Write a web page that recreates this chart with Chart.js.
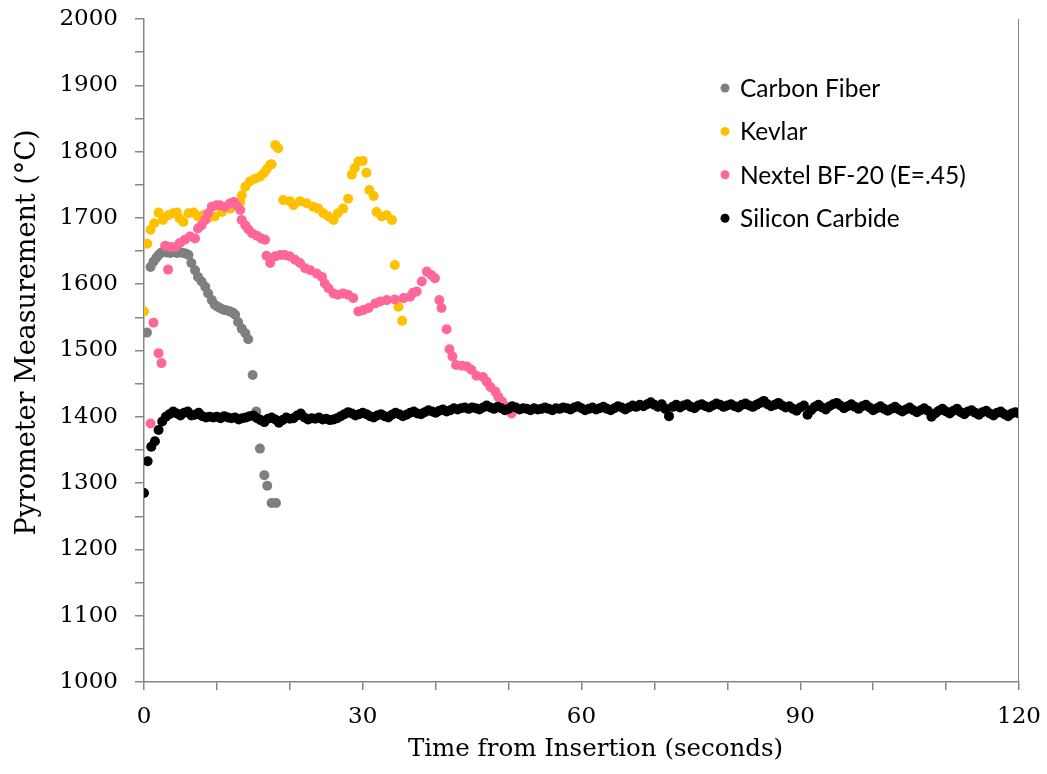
<!DOCTYPE html>
<html>
<head>
<meta charset="utf-8">
<script src="https://cdn.jsdelivr.net/npm/chart.js@4/dist/chart.umd.min.js"></script>
<style>
  html, body { margin: 0; padding: 0; background: #fff; }
  #wrap { width: 1047px; height: 774px; position: relative; }
</style>
</head>
<body>
<div id="wrap"><canvas id="chart-pyro"></canvas></div>
<script>
/* Pyrometer readings, time in seconds, temperature in deg C */
var carbonTime = [0.4, 0.9, 1.3, 1.7, 2.0, 2.3, 2.6, 3.1, 3.6, 4.0, 4.5, 4.9, 5.4, 5.8, 6.1, 6.5, 7.0, 7.4, 7.9, 8.4,
    8.8, 9.3, 9.7, 10.1, 10.4, 10.8, 11.1, 11.5, 11.8, 12.2, 12.5, 12.9, 13.4, 13.9, 14.3, 14.9, 15.4, 15.9, 16.5, 16.9,
    17.5, 18.1];
var carbonTemp = [1527, 1626, 1634, 1640, 1644, 1647, 1649, 1648, 1647, 1649, 1647, 1648, 1647, 1646, 1644, 1632, 1621, 1611, 1604, 1596,
    1586, 1576, 1569, 1566, 1564, 1562, 1561, 1560, 1559, 1557, 1554, 1543, 1533, 1526, 1517, 1463, 1408, 1352, 1312, 1296,
    1270, 1270];

var kevlarTime = [0.0, 0.45, 0.9, 1.4, 2.0, 2.6, 3.3, 4.0, 4.5, 4.9, 5.4, 6.1, 6.8, 7.4, 8.1, 8.8, 9.7, 10.7, 11.8, 12.7,
    13.2, 13.4, 13.9, 14.5, 15.2, 15.9, 16.4, 16.8, 17.3, 17.5, 18.0, 18.4, 19.1, 20.0, 20.5, 21.4, 22.3, 23.2, 23.9, 24.6,
    25.3, 26.0, 26.6, 27.3, 28.0, 28.5, 28.9, 29.4, 30.0, 30.5, 30.9, 31.5, 31.9, 32.6, 33.3, 34.0, 34.4, 34.9, 35.4];
var kevlarTemp = [1559, 1661, 1682, 1692, 1708, 1697, 1704, 1707, 1708, 1699, 1694, 1707, 1708, 1702, 1704, 1700, 1702, 1709, 1714, 1719,
    1724, 1734, 1747, 1755, 1759, 1762, 1767, 1773, 1780, 1781, 1810, 1805, 1727, 1725, 1719, 1725, 1722, 1717, 1714, 1707,
    1702, 1697, 1707, 1714, 1729, 1765, 1775, 1785, 1786, 1768, 1742, 1733, 1709, 1702, 1704, 1697, 1629, 1566, 1545];

var nextelTime = [0.9, 1.3, 2.0, 2.4, 2.9, 3.3, 3.6, 4.3, 4.9, 5.6, 6.3, 7.0, 7.4, 7.9, 8.4, 8.8, 9.3, 9.9, 10.4, 11.1,
    11.8, 12.3, 12.7, 13.2, 13.4, 13.9, 14.3, 14.8, 15.5, 16.1, 16.6, 16.8, 17.3, 18.0, 18.7, 19.3, 20.0, 20.7, 21.4, 22.1,
    22.8, 23.7, 24.4, 24.8, 25.3, 26.0, 26.6, 27.3, 28.0, 28.7, 29.4, 30.1, 30.8, 31.7, 32.4, 33.3, 34.4, 35.6, 36.5, 36.9,
    37.4, 38.1, 38.8, 39.4, 39.9, 40.5, 40.8, 41.5, 41.9, 42.3, 42.8, 43.6, 44.3, 44.9, 45.6, 46.5, 47.0, 47.5, 48.2, 48.6,
    49.1, 49.7, 50.4];
var nextelTemp = [1390, 1542, 1496, 1481, 1658, 1622, 1656, 1656, 1662, 1667, 1672, 1669, 1684, 1689, 1697, 1707, 1717, 1719, 1719, 1717,
    1722, 1724, 1719, 1712, 1697, 1689, 1683, 1677, 1673, 1669, 1667, 1643, 1632, 1642, 1644, 1644, 1642, 1637, 1632, 1624,
    1621, 1616, 1611, 1601, 1594, 1586, 1584, 1586, 1584, 1579, 1559, 1561, 1564, 1571, 1574, 1576, 1577, 1579, 1581, 1587,
    1589, 1604, 1619, 1614, 1609, 1576, 1564, 1532, 1502, 1491, 1478, 1477, 1476, 1471, 1462, 1460, 1453, 1445, 1438, 1430,
    1423, 1415, 1405];

/* silicon carbide logged every 0.5 s from t = 0 to 120 */
var sicStep = 0.5;
var sicTemp = [
    1285, 1333, 1355, 1363, 1380, 1393, 1400, 1404, 1408, 1405,
    1402, 1406, 1408, 1402, 1403, 1406, 1401, 1399, 1400, 1399,
    1400, 1398, 1401, 1399, 1398, 1399, 1396, 1398, 1399, 1401,
    1402, 1398, 1395, 1392, 1397, 1399, 1396, 1391, 1395, 1399,
    1397, 1398, 1402, 1405, 1399, 1396, 1398, 1397, 1399, 1396,
    1397, 1395, 1396, 1398, 1401, 1404, 1407, 1405, 1402, 1404,
    1406, 1404, 1401, 1399, 1402, 1404, 1401, 1399, 1403, 1406,
    1404, 1401, 1403, 1406, 1408, 1405, 1404, 1407, 1410, 1408,
    1406, 1409, 1411, 1408, 1410, 1413, 1411, 1413, 1414, 1412,
    1414, 1413, 1411, 1414, 1417, 1414, 1412, 1415, 1413, 1410,
    1412, 1416, 1414, 1411, 1413, 1412, 1410, 1413, 1411, 1412,
    1414, 1412, 1410, 1413, 1412, 1414, 1413, 1411, 1414, 1416,
    1413, 1410, 1412, 1414, 1411, 1413, 1415, 1412, 1410, 1413,
    1416, 1414, 1411, 1414, 1417, 1415, 1418, 1416, 1419, 1422,
    1418, 1415, 1419, 1412, 1401, 1415, 1418, 1414, 1417, 1419,
    1415, 1413, 1417, 1419, 1416, 1414, 1417, 1420, 1418, 1415,
    1417, 1419, 1416, 1414, 1418, 1420, 1417, 1415, 1418, 1421,
    1424, 1419, 1416, 1418, 1421, 1417, 1414, 1416, 1412, 1409,
    1414, 1417, 1403, 1410, 1415, 1418, 1414, 1411, 1416, 1419,
    1421, 1417, 1413, 1416, 1419, 1415, 1412, 1416, 1418, 1414,
    1410, 1413, 1416, 1412, 1409, 1412, 1415, 1411, 1408, 1411,
    1414, 1410, 1407, 1410, 1413, 1409, 1400, 1405, 1409, 1412,
    1408, 1405, 1409, 1412, 1407, 1404, 1408, 1410, 1406, 1403,
    1407, 1409, 1405, 1402, 1406, 1408, 1404, 1401, 1405, 1407,
    1405];

var seriesNames = ['Carbon Fiber', 'Kevlar', 'Nextel BF-20 (E=.45)', 'Silicon Carbide'];
var seriesColors = ['#7f7f7f', '#ffc000', '#ff6699', '#000000'];

function pairs(xs, ys) {
    return ys.map(function (v, i) { return { x: xs[i], y: v }; });
}
var sicPoints = sicTemp.map(function (v, i) { return { x: i * sicStep, y: v }; });

var axisGray = '#868686';
var serif = '"DejaVu Serif", "Liberation Serif", serif';

/* axis titles and the legend block are drawn by hand so they sit where the original has them */
var overlayPlugin = {
    id: 'overlay',
    afterDraw: function (chart) {
        var ctx = chart.ctx, a = chart.chartArea;
        ctx.save();
        ctx.strokeStyle = axisGray;
        ctx.lineWidth = 1;
        ctx.beginPath();
        ctx.moveTo(Math.round(a.right) - 0.5, a.top);
        ctx.lineTo(Math.round(a.right) - 0.5, a.bottom);
        ctx.stroke();

        ctx.fillStyle = '#000';
        ctx.textAlign = 'center';
        ctx.textBaseline = 'middle';
        ctx.font = '24.5px ' + serif;
        ctx.fillText('Time from Insertion (seconds)', (a.left + a.right) / 2 + 14, 750);
        ctx.save();
        ctx.translate(28, (a.top + a.bottom) / 2 - 18);
        ctx.rotate(-Math.PI / 2);
        ctx.font = '27px ' + serif;
        ctx.fillText('Pyrometer Measurement (\u00B0C)', 0, 0);
        ctx.restore();

        ctx.textAlign = 'left';
        ctx.font = '24.5px Lato, "Open Sans", sans-serif';
        for (var i = 0; i < seriesNames.length; i++) {
            var y = 88 + i * 43.4;
            ctx.fillStyle = seriesColors[i];
            ctx.beginPath();
            ctx.arc(725, y, 4.5, 0, Math.PI * 2);
            ctx.fill();
            ctx.fillStyle = '#000';
            ctx.fillText(seriesNames[i], 740, y + 1);
        }
        ctx.restore();
    }
};

var pyroCanvas = document.getElementById('chart-pyro').getContext('2d');
var pyroChart = new Chart(pyroCanvas, {
    type: 'scatter',
    data: {
        datasets: [
            { label: seriesNames[0], data: pairs(carbonTime, carbonTemp), backgroundColor: seriesColors[0], order: 3 },
            { label: seriesNames[1], data: pairs(kevlarTime, kevlarTemp), backgroundColor: seriesColors[1], order: 2 },
            { label: seriesNames[2], data: pairs(nextelTime, nextelTemp), backgroundColor: seriesColors[2], order: 1 },
            { label: seriesNames[3], data: sicPoints, backgroundColor: seriesColors[3], order: 0 }
        ]
    },
    options: {
        responsive: true,
        maintainAspectRatio: false,
        animation: false,
        elements: {
            point: { radius: 5, borderWidth: 0, hoverRadius: 5 }
        },
        layout: {
            padding: { left: 0, right: 28, top: 19, bottom: 0 }
        },
        plugins: {
            legend: { display: false },
            tooltip: { enabled: false }
        },
        scales: {
            x: {
                type: 'linear',
                min: 0,
                max: 120,
                afterFit: function (scale) {
                    scale.height = 92;
                    scale.paddingLeft = 0;
                    scale.paddingRight = 0;
                },
                ticks: {
                    stepSize: 10,
                    autoSkip: false,
                    maxRotation: 0,
                    padding: 13,
                    color: '#000',
                    font: { family: serif, size: 23 },
                    callback: function (v) { return v % 30 === 0 ? v : ''; }
                },
                grid: { drawOnChartArea: false, tickLength: 8, color: axisGray, lineWidth: 1.5 },
                border: { color: axisGray, width: 1.5 }
            },
            y: {
                min: 1000,
                max: 2000,
                afterFit: function (scale) {
                    scale.width = 144;
                    scale.paddingTop = 0;
                    scale.paddingBottom = 0;
                },
                ticks: {
                    stepSize: 50,
                    autoSkip: false,
                    padding: 17,
                    color: '#000',
                    font: { family: serif, size: 23 },
                    callback: function (v) { return v % 100 === 0 ? v : ''; }
                },
                grid: { drawOnChartArea: false, tickLength: 9, color: axisGray, lineWidth: 1.5 },
                border: { color: axisGray, width: 1.5 }
            }
        }
    },
    plugins: [overlayPlugin]
});
</script>
</body>
</html>
